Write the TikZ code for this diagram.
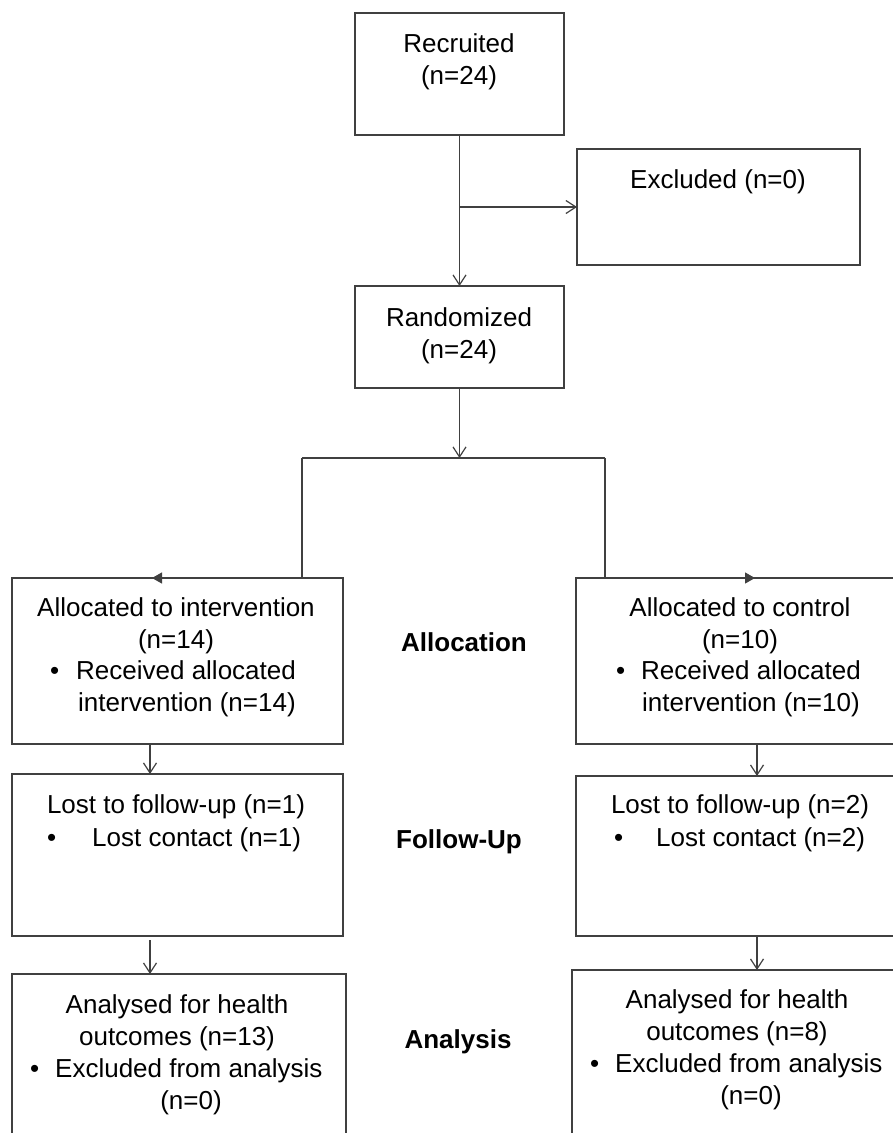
\documentclass[tikz,border=0pt]{standalone}
\usepackage{fontspec}
\setmainfont{Liberation Sans}
\usetikzlibrary{arrows.meta}

\begin{document}
\begin{tikzpicture}[
        x=1pt, y=-1pt,
        box/.style = {
            draw=black!75, line width=1.2pt, anchor=north west,
            inner sep=0pt, outer sep=0pt
        },
        txt/.style = {
            font=\fontsize{26pt}{32pt}\selectfont, inner sep=0pt,
            anchor=base, align=center
        },
        bul/.style = {txt, anchor=base west, align=left},
        stage/.style = {txt, font=\fontsize{26pt}{32pt}\selectfont\bfseries},
        link/.style = {draw=black!75, line width=1.2pt},
        arr/.style = {link, -{Straight Barb[length=10pt,width=13pt]}},
        tri/.style = {link, -{Triangle[length=10pt,width=11pt]}},
        ]
        \clip (0,0) rectangle (893,1133);

        % boxes
        \node[box, minimum width=209pt, minimum height=122pt] (recruited) at (355,13) {};
        \node[box, minimum width=283pt, minimum height=116pt] (excluded) at (577,149) {};
        \node[box, minimum width=209pt, minimum height=102pt] (randomized) at (355,286) {};
        \node[box, minimum width=331pt, minimum height=166pt] (allocL) at (12,578) {};
        \node[box, minimum width=330pt, minimum height=166pt] (allocR) at (576,578) {};
        \node[box, minimum width=331pt, minimum height=162pt] (lostL) at (12,774) {};
        \node[box, minimum width=330pt, minimum height=160pt] (lostR) at (576,776) {};
        \node[box, minimum width=334pt, minimum height=180pt] (analL) at (12,974) {};
        \node[box, minimum width=334pt, minimum height=180pt] (analR) at (572,970) {};

        % texts (base = last line)
        \node[txt] (recruitedtxt) at (459,84) {Recruited\\(n=24)};
        \node[txt] (excludedtxt) at (718,188) {Excluded (n=0)};
        \node[txt] (randomizedtxt) at (459,358) {Randomized\\(n=24)};

        \node[txt] (allocLtxt) at (176,648) {Allocated to intervention\\(n=14)};
        \node[bul] (allocLbul) at (50,711) {\makebox[26pt][l]{•}Received allocated\\\makebox[28pt]{}intervention (n=14)};
        \node[txt] (allocRtxt) at (740,648) {Allocated to control\\(n=10)};
        \node[bul] (allocRbul) at (616,711) {\makebox[25pt][l]{•}Received allocated\\\makebox[26pt]{}intervention (n=10)};

        \node[txt] (lostLtxt) at (176,813) {Lost to follow-up (n=1)};
        \node[bul] (lostLbul) at (47,846) {\makebox[45pt][l]{•}Lost contact (n=1)};
        \node[txt] (lostRtxt) at (740,813) {Lost to follow-up (n=2)};
        \node[bul] (lostRbul) at (614,846) {\makebox[42pt][l]{•}Lost contact (n=2)};

        \node[txt] (analLtxt) at (177,1045) {Analysed for health\\outcomes (n=13)};
        \node[bul] (analLbul) at (30,1077) {\makebox[25pt][l]{•}Excluded from analysis};
        \node[txt] (analLn) at (191,1109) {(n=0)};
        \node[txt] (analRtxt) at (737,1040) {Analysed for health\\outcomes (n=8)};
        \node[bul] (analRbul) at (590,1072) {\makebox[25pt][l]{•}Excluded from analysis};
        \node[txt] (analRn) at (751,1104) {(n=0)};

        \node[stage] (allocation) at (464,651) {Allocation};
        \node[stage] (followup) at (459,848) {Follow-Up};
        \node[stage] (analysis) at (458,1048) {Analysis};

        % connectors
        \coordinate (splitL) at (302,458);
        \coordinate (splitR) at (605,458);
        \coordinate (tipL) at (152,578);
        \coordinate (tipR) at (755,578);
        \coordinate (colL) at (150,0);
        \coordinate (colR) at (757,0);

        \draw[arr] (recruited.south) -- (randomized.north);
        \draw[arr] (recruited.south |- excluded.west) -- (excluded.west);
        \draw[arr] (randomized.south) -- (randomized.south |- splitL);
        \draw[link] (splitL) -- (splitR);
        \draw[tri] (splitL) |- (tipL);
        \draw[tri] (splitR) |- (tipR);
        \draw[arr] (allocL.south -| colL) -- (lostL.north -| colL);
        \draw[arr] (allocR.south -| colR) -- (lostR.north -| colR);
        \draw[arr] ([yshift=-4pt]lostL.south -| colL) -- (analL.north -| colL);
        \draw[arr] (lostR.south -| colR) -- (analR.north -| colR);
    \end{tikzpicture}
\end{document}
